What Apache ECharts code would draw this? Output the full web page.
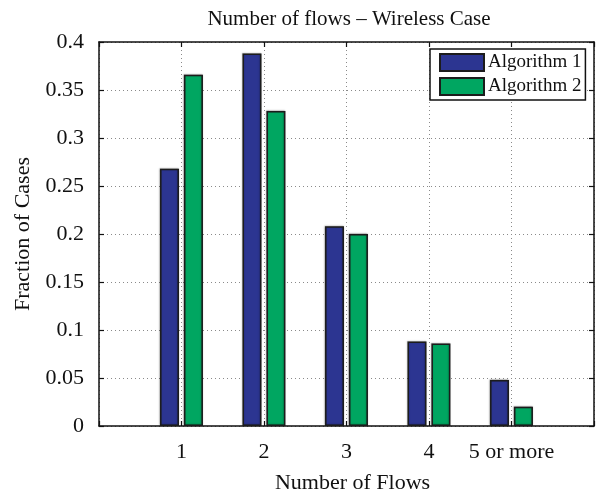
<!DOCTYPE html>
<html>
<head>
<meta charset="utf-8">
<script src="https://cdn.jsdelivr.net/npm/echarts@6/dist/echarts.min.js"></script>
<style>
  html, body { margin: 0; padding: 0; background: #fff; }
  #chart { width: 599px; height: 492px; }
</style>
</head>
<body>
<div id="chart"></div>
<script>
// Flow-count categories; the empty slots pad the axis so bars sit at 1..5
const categories = ['', '1', '2', '3', '4', '5 or more', ''];
const algorithm1 = ['-', 0.268, 0.388, 0.208, 0.088, 0.048, '-'];
const algorithm2 = ['-', 0.366, 0.328, 0.200, 0.086, 0.020, '-'];
const yMin = 0, yMax = 0.4, yStep = 0.05;

const FONT = 'Liberation Serif';
const INK = '#111';

const chart = echarts.init(document.getElementById('chart'), null, { renderer: 'canvas' });

const tickStyle = () => ({ show: true, inside: true, length: 5, lineStyle: { color: INK, width: 1.2 } });
const axisLineStyle = () => ({ show: true, onZero: false, lineStyle: { color: INK, width: 1.5 } });
const dotted = () => ({ show: true, lineStyle: { color: '#8a8a8a', width: 1, type: [1, 3] } });

function barStyle(color) {
  return {
    color: color,
    borderColor: '#1c1c1c',
    borderWidth: 1.5,
    shadowColor: 'rgba(0,0,0,0.35)',
    shadowBlur: 1.5,
    shadowOffsetX: -0.5,
    shadowOffsetY: -0.5
  };
}

chart.setOption({
  animation: false,
  backgroundColor: '#fff',
  title: {
    text: 'Number of flows \u2013 Wireless Case',
    left: 344,
    textAlign: 'center',
    top: 4,
    textStyle: { fontFamily: FONT, fontWeight: 'normal', fontSize: 21, color: INK }
  },
  legend: {
    left: 430,
    top: 49,
    orient: 'vertical',
    backgroundColor: '#fff',
    borderColor: INK,
    borderWidth: 1.5,
    borderRadius: 0,
    padding: [4, 4, 4, 9],
    itemGap: 5,
    itemWidth: 44,
    itemHeight: 17,
    icon: 'rect',
    textStyle: { fontFamily: FONT, fontSize: 19, color: INK, padding: [0, 0, 0, -1] },
    data: ['Algorithm 1', 'Algorithm 2']
  },
  grid: { left: 99, right: 5, top: 42, bottom: 66, containLabel: false, outerBoundsMode: 'none' },
  xAxis: [
    {
      type: 'category',
      data: categories,
      boundaryGap: false,
      position: 'bottom',
      axisLine: axisLineStyle(),
      axisTick: tickStyle(),
      axisLabel: { fontFamily: FONT, fontSize: 22, color: INK, margin: 15, interval: 0 },
      splitLine: dotted(),
      name: 'Number of Flows',
      nameLocation: 'middle',
      nameGap: 46,
      nameTextStyle: { fontFamily: FONT, fontSize: 22, color: INK, padding: [0, 0, 0, 12] }
    },
    {
      type: 'category',
      data: categories,
      boundaryGap: false,
      position: 'top',
      axisLine: axisLineStyle(),
      axisTick: tickStyle(),
      axisLabel: { show: false },
      splitLine: { show: false }
    }
  ],
  yAxis: [
    {
      type: 'value',
      min: yMin,
      max: yMax,
      interval: yStep,
      position: 'left',
      axisLine: axisLineStyle(),
      axisTick: tickStyle(),
      axisLabel: { fontFamily: FONT, fontSize: 22, color: INK, margin: 15 },
      splitLine: dotted(),
      name: 'Fraction of Cases',
      nameLocation: 'middle',
      nameGap: 60,
      nameTextStyle: { fontFamily: FONT, fontSize: 22, color: INK }
    },
    {
      type: 'value',
      min: yMin,
      max: yMax,
      interval: yStep,
      position: 'right',
      axisLine: axisLineStyle(),
      axisTick: tickStyle(),
      axisLabel: { show: false },
      splitLine: { show: false }
    }
  ],
  series: [
    {
      name: 'Algorithm 1',
      type: 'bar',
      data: algorithm1,
      barWidth: 19,
      barGap: '26%',
      itemStyle: barStyle('#2c3591')
    },
    {
      name: 'Algorithm 2',
      type: 'bar',
      data: algorithm2,
      barWidth: 19,
      barGap: '26%',
      itemStyle: barStyle('#00a661')
    }
  ]
});
</script>
</body>
</html>
